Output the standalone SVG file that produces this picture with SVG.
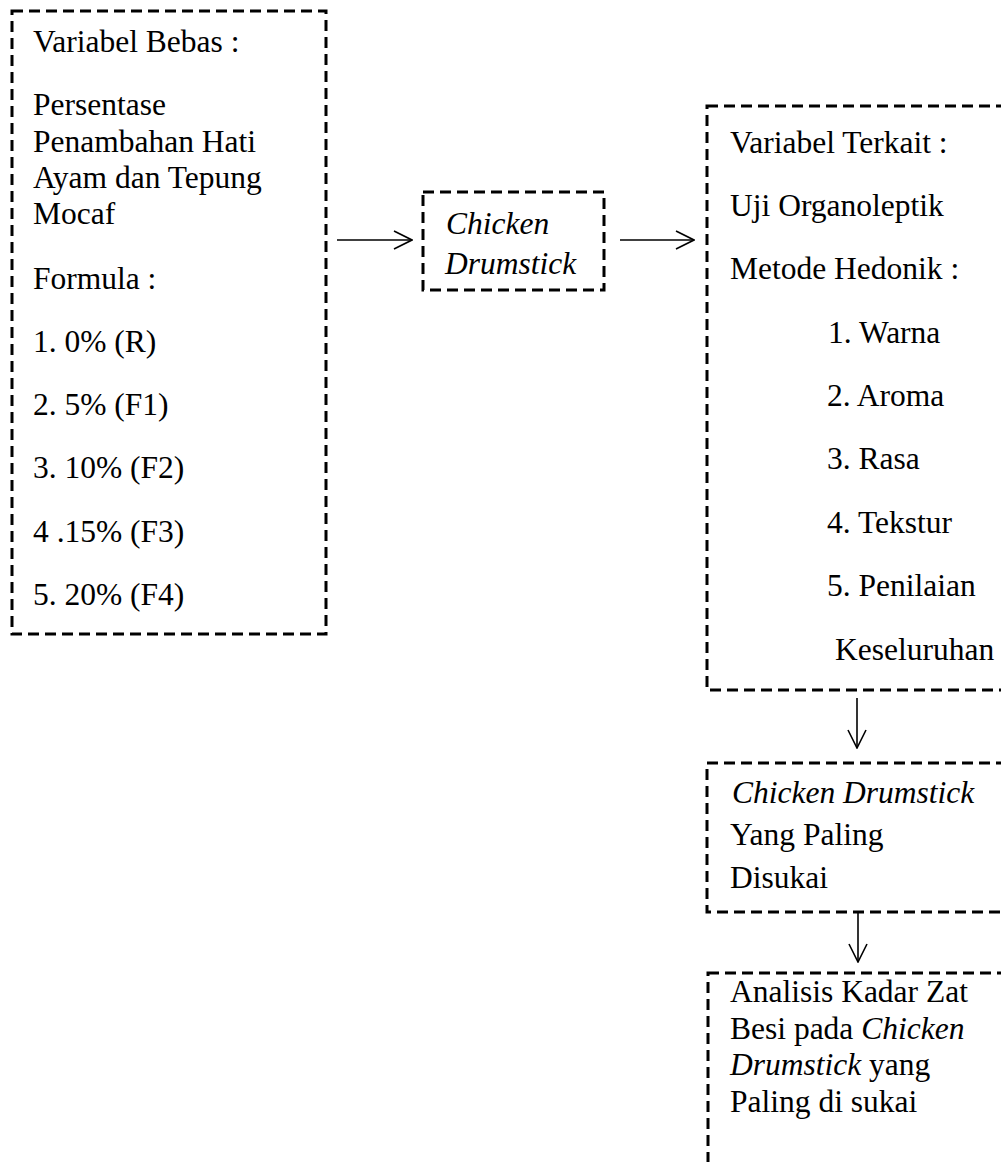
<svg xmlns="http://www.w3.org/2000/svg" width="1001" height="1162" viewBox="0 0 1001 1162">
<style>
.box{fill:none;stroke:#000;stroke-width:3;stroke-dasharray:11 6}
.t{font-family:"Liberation Serif","Times New Roman",serif;font-size:31.5px;fill:#000}
.i{font-style:italic}
.con{fill:none;stroke:#000;stroke-width:1.6}
</style>
<defs>
<marker id="ah" viewBox="0 0 20 20" refX="19" refY="10" markerWidth="20" markerHeight="20" markerUnits="userSpaceOnUse" orient="auto">
<path d="M1,1 L19,10 L1,19" fill="none" stroke="#000" stroke-width="1.6"/>
</marker>
</defs>
<rect width="1001" height="1162" fill="#fff"/>
<g id="node-bebas">
<rect class="box" x="12" y="11" width="314" height="623"/>
<text class="t" x="33" y="52">Variabel Bebas :</text>
<text class="t" x="33" y="115">Persentase</text>
<text class="t" x="33" y="152">Penambahan Hati</text>
<text class="t" x="33" y="188">Ayam dan Tepung</text>
<text class="t" x="33" y="224">Mocaf</text>
<text class="t" x="33" y="289">Formula :</text>
<text class="t" x="33" y="352">1. 0% (R)</text>
<text class="t" x="33" y="415">2. 5% (F1)</text>
<text class="t" x="33" y="478">3. 10% (F2)</text>
<text class="t" x="33" y="542">4 .15% (F3)</text>
<text class="t" x="33" y="605">5. 20% (F4)</text>
</g>
<g id="node-chicken">
<rect class="box" x="423" y="192" width="181" height="98"/>
<text class="t i" x="446" y="234">Chicken</text>
<text class="t i" x="445" y="274">Drumstick</text>
</g>
<g id="node-terkait">
<rect class="box" x="707" y="106" width="310" height="584"/>
<text class="t" x="730" y="153">Variabel Terkait :</text>
<text class="t" x="730" y="216">Uji Organoleptik</text>
<text class="t" x="730" y="279">Metode Hedonik :</text>
<text class="t" x="828" y="343">1. Warna</text>
<text class="t" x="827" y="406">2. Aroma</text>
<text class="t" x="827" y="469">3. Rasa</text>
<text class="t" x="827" y="533">4. Tekstur</text>
<text class="t" x="827" y="596">5. Penilaian</text>
<text class="t" x="835" y="660">Keseluruhan</text>
</g>
<g id="node-disukai">
<rect class="box" x="707" y="763" width="310" height="149"/>
<text class="t i" x="732" y="803">Chicken Drumstick</text>
<text class="t" x="730" y="845">Yang Paling</text>
<text class="t" x="730" y="888">Disukai</text>
</g>
<g id="node-analisis">
<rect class="box" x="708" y="973" width="310" height="210"/>
<text class="t" x="730" y="1002">Analisis Kadar Zat</text>
<text class="t" x="730" y="1039">Besi pada <tspan class="i">Chicken</tspan></text>
<text class="t" x="730" y="1075"><tspan class="i">Drumstick</tspan> yang</text>
<text class="t" x="730" y="1112">Paling di sukai</text>
</g>
<g id="connectors">
<line class="con" x1="337" y1="240" x2="412" y2="240" marker-end="url(#ah)"/>
<line class="con" x1="620" y1="240" x2="694" y2="240" marker-end="url(#ah)"/>
<line class="con" x1="857" y1="698" x2="857" y2="748" marker-end="url(#ah)"/>
<line class="con" x1="858" y1="913" x2="858" y2="962" marker-end="url(#ah)"/>
</g>
</svg>
